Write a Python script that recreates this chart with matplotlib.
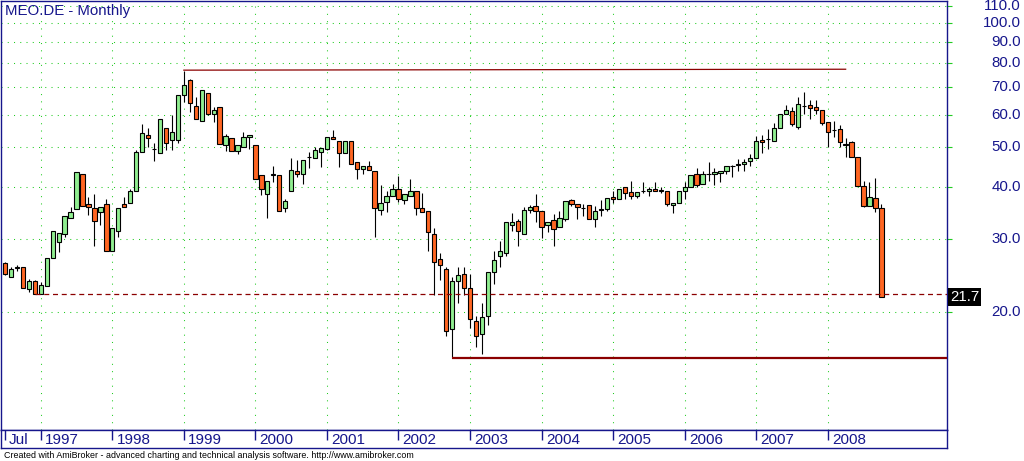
import matplotlib
matplotlib.use("Agg")
import matplotlib.pyplot as plt
from matplotlib.ticker import NullLocator, FixedLocator
from matplotlib.transforms import blended_transform_factory
import pandas as pd

# ---- data (monthly OHLC, Jul 1996 .. Oct 2008) ----
start_month = "1996-07"
opens = [26.2, 24.3, 25.55, 25.6, 22.7, 23.7, 22.0, 23.1, 27.0, 29.5, 30.9, 33.8,
         35.4, 43.1, 36.5, 35.6, 34.8, 36.4, 28.0, 31.3, 36.4, 36.6, 39.1, 48.7,
         53.5, 49.6, 48.4, 55.6, 52.0, 52.2, 66.9, 72.8, 62.9, 57.9, 67.6, 60.2,
         62.6, 50.6, 52.6, 48.9, 50.1, 52.9, 50.6, 42.8, 38.5, 42.9, 42.8, 35.6,
         39.3, 43.8, 43.1, 47.4, 47.1, 48.8, 49.7, 53.0, 51.7, 48.4, 51.7, 46.0,
         44.3, 45.2, 43.8, 35.2, 36.8, 38.2, 39.7, 37.2, 38.2, 39.1, 35.6, 35.0,
         30.9, 26.8, 25.4, 18.1, 23.7, 24.7, 22.8, 19.0, 17.6, 19.5, 24.9, 27.2,
         27.8, 32.5, 33.2, 30.8, 35.2, 36.0, 35.0, 32.4, 33.4, 32.0, 33.6, 37.2,
         36.4, 35.6, 36.2, 33.6, 35.3, 35.4, 38.0, 37.4, 40.0, 38.9, 38.2, 39.1,
         39.1, 39.7, 39.3, 39.3, 36.2, 36.6, 39.3, 40.0, 43.1, 40.8, 43.1, 43.0,
         43.3, 43.9, 45.1, 45.4, 45.7, 46.3, 47.1, 52.1, 52.3, 51.9, 55.7, 60.4,
         61.2, 56.2, 62.9, 63.3, 62.8, 61.5, 57.6, 55.1, 55.3, 50.8, 51.5, 47.4,
         40.4, 36.0, 37.8, 35.6]
highs = [26.4, 25.6, 25.9, 25.6, 24.0, 23.9, 23.6, 27.0, 31.3, 31.0, 34.1, 35.9,
         43.6, 43.1, 37.9, 38.5, 35.8, 37.4, 31.8, 35.6, 37.9, 39.6, 49.3, 57.0,
         55.7, 51.2, 58.5, 55.6, 60.0, 66.9, 76.5, 73.3, 66.2, 68.8, 67.6, 62.6,
         62.6, 53.9, 52.6, 50.6, 54.5, 53.5, 50.6, 42.8, 41.4, 45.1, 42.8, 37.4,
         47.1, 46.6, 46.5, 48.7, 50.0, 49.8, 52.9, 55.0, 51.7, 51.7, 51.7, 46.0,
         45.0, 46.3, 43.8, 40.5, 39.3, 40.7, 42.6, 38.5, 41.9, 39.1, 38.7, 35.0,
         31.8, 27.8, 25.7, 24.3, 25.7, 25.6, 24.7, 19.5, 21.0, 24.9, 28.1, 29.7,
         32.9, 34.7, 33.6, 35.8, 36.2, 38.5, 35.0, 32.9, 34.5, 35.0, 37.0, 37.6,
         36.4, 36.4, 36.2, 36.1, 37.2, 37.8, 39.3, 39.7, 40.0, 41.4, 38.9, 41.2,
         40.2, 41.2, 40.2, 39.3, 36.6, 39.1, 41.2, 42.9, 44.5, 43.8, 46.0, 44.5,
         43.9, 45.0, 45.4, 46.8, 47.0, 48.2, 53.4, 53.6, 55.4, 57.4, 60.2, 63.4,
         62.6, 66.2, 68.1, 65.2, 65.2, 61.5, 57.6, 57.9, 56.6, 52.6, 51.8, 47.4,
         41.4, 41.2, 42.1, 36.4]
lows = [24.5, 24.2, 25.1, 22.8, 22.3, 22.0, 22.0, 23.1, 27.0, 27.9, 30.3, 33.8,
        35.4, 36.0, 34.2, 28.9, 32.5, 28.0, 28.0, 30.4, 35.8, 36.6, 39.1, 48.7,
        50.1, 46.4, 48.4, 49.3, 49.3, 51.3, 64.5, 61.1, 58.7, 57.9, 59.8, 57.8,
        51.1, 49.1, 48.9, 48.3, 50.1, 49.5, 41.9, 38.4, 33.8, 41.3, 35.0, 34.9,
        39.1, 42.3, 40.8, 44.6, 47.1, 44.9, 49.4, 52.3, 44.9, 48.4, 45.5, 41.9,
        43.0, 44.0, 30.3, 34.3, 34.8, 38.2, 36.8, 36.4, 38.2, 34.3, 34.8, 28.1,
        21.9, 23.8, 17.4, 15.4, 21.0, 21.9, 18.2, 16.4, 15.8, 18.5, 23.3, 25.7,
        27.2, 31.4, 28.8, 30.8, 34.7, 32.9, 30.1, 31.1, 28.8, 32.0, 33.2, 36.0,
        33.6, 34.1, 33.6, 32.0, 34.1, 35.1, 36.7, 37.4, 37.4, 37.6, 37.8, 38.7,
        38.1, 39.1, 38.7, 36.0, 34.7, 36.6, 37.6, 40.0, 40.2, 40.8, 41.5, 40.6,
        41.3, 43.1, 42.4, 43.9, 43.9, 45.2, 47.1, 48.6, 49.6, 51.9, 55.7, 60.2,
        56.4, 55.4, 60.2, 58.7, 60.3, 56.8, 50.0, 53.0, 50.0, 47.3, 47.4, 40.3,
        35.8, 36.0, 34.8, 21.7]
closes = [24.7, 25.4, 25.6, 22.8, 23.7, 22.0, 23.2, 27.0, 31.3, 31.0, 34.1, 34.8,
          43.6, 36.0, 35.8, 33.2, 35.8, 28.0, 31.8, 35.6, 35.8, 39.1, 48.7, 54.1,
          52.6, 49.7, 58.5, 51.2, 54.4, 66.9, 70.8, 64.0, 58.7, 68.8, 60.2, 61.5,
          51.1, 53.2, 48.9, 50.6, 52.9, 53.5, 41.9, 39.6, 41.4, 43.0, 35.0, 37.0,
          44.0, 43.0, 46.5, 47.5, 49.2, 49.8, 52.9, 52.3, 48.4, 51.7, 45.5, 44.3,
          45.0, 44.0, 35.6, 36.6, 38.2, 39.7, 37.6, 38.5, 39.1, 35.6, 34.8, 31.1,
          26.3, 25.9, 17.9, 23.7, 24.5, 22.8, 19.2, 17.4, 19.4, 24.9, 26.6, 28.1,
          32.9, 32.9, 31.3, 35.2, 35.8, 35.0, 32.1, 32.9, 31.7, 33.8, 37.0, 36.4,
          35.8, 35.7, 33.6, 35.1, 35.4, 37.8, 37.4, 39.7, 38.7, 38.2, 38.9, 39.2,
          39.7, 39.3, 39.4, 36.4, 36.6, 39.1, 40.2, 42.9, 40.6, 43.1, 43.2, 43.5,
          43.9, 45.0, 45.2, 45.7, 46.2, 47.1, 51.9, 51.5, 52.4, 55.7, 60.2, 61.5,
          57.1, 63.6, 63.0, 62.4, 61.8, 57.4, 54.6, 55.2, 51.5, 50.9, 47.4, 40.3,
          36.1, 38.0, 35.6, 21.7]

price_ticks = [20, 30, 40, 50, 60, 70, 80, 90, 100, 110]
title = "MEO.DE - Monthly"
footer = ("Created with AmiBroker - advanced charting and technical analysis software. "
          "http://www.amibroker.com")

# reference lines
res_start, res_end = 30, 141
res_values = (77.0, 77.4)
sup_start, sup_value = 75, 15.4
dash_start, dash_value = 5, 22.0
last_label = "21.7"

# ---- styling ----
NAVY = "#16168C"
GRID = "#22CC22"
UP = "#90EE90"
DOWN = "#FF6622"
MAROON = "#8B0000"
FONT = "Liberation Sans"

W, H = 1024, 461
fig = plt.figure(figsize=(W / 100, H / 100), dpi=100)
fig.patch.set_facecolor("white")

ax = fig.add_axes([1 / W, 31 / H, 946 / W, 429 / H])
ax.set_yscale("log")
n = len(opens)
xs = list(range(n))
ax.set_xlim(-0.671, 158.0)
ax.set_ylim(10.32, 113.3)

months = pd.period_range(start_month, periods=n, freq="M")
year_idx = [i for i, m in enumerate(months) if m.month == 1]
year_lbl = [str(months[i].year) for i in year_idx]

# grid
for p in price_ticks:
    ax.axhline(p, color=GRID, lw=0.75, ls=(0, (1, 5)), zorder=0)
for i in year_idx:
    ax.axvline(i, color=GRID, lw=0.75, ls=(0, (1, 6)), zorder=0)

# candles
bw = 0.72
for i in xs:
    o, h, l, c = opens[i], highs[i], lows[i], closes[i]
    ax.vlines(i, l, h, color="black", lw=0.8, zorder=2)
    col = UP if c >= o else DOWN
    ax.bar(i, abs(c - o), bottom=min(o, c), width=bw, color=col,
           edgecolor="black", linewidth=0.8, zorder=3)

# trend / support lines
ax.plot([res_start, res_end], list(res_values), color=MAROON, lw=0.9, zorder=4)
ax.hlines(sup_value, sup_start, 158.0, color=MAROON, lw=1.6, zorder=4)
ax.hlines(dash_value, dash_start, 158.0, color=MAROON, lw=0.9,
          linestyles=(0, (4, 3)), zorder=4)

# axes frame
for s in ax.spines.values():
    s.set_color(NAVY)
    s.set_linewidth(1.0)
ax.set_xticks([])
ax.yaxis.set_minor_locator(NullLocator())
ax.yaxis.set_major_locator(FixedLocator(price_ticks))
ax.yaxis.tick_right()
ax.tick_params(axis="y", which="major", direction="out", length=3.5,
               color=GRID, labelright=False, labelleft=False)

# price labels, right aligned
tr = blended_transform_factory(fig.transFigure, ax.transData)
for p in price_ticks:
    ax.text(1021 / W, p, f"{p:.1f}", transform=tr, ha="right", va="center",
            fontsize=10.8, color=NAVY, family=FONT, clip_on=False)
ax.text(950 / W, closes[-1], last_label, transform=tr, ha="left", va="center",
        fontsize=10.8, color="white", family=FONT, clip_on=False,
        bbox=dict(boxstyle="square,pad=0.12", fc="black", ec="none"))

# title
fig.text(5 / W, (H - 11) / H, title, ha="left", va="center", fontsize=10.8,
         color=NAVY, family=FONT)

# date band
band = fig.add_axes([1 / W, 13 / H, 946 / W, 18 / H])
band.set_xlim(ax.get_xlim())
band.set_ylim(0, 1)
band.set_xticks([])
band.set_yticks([])
for s in band.spines.values():
    s.set_color(NAVY)
    s.set_linewidth(1.0)
tick_pos = [0] + year_idx
tick_lbl = ["Jul"] + year_lbl
for i, t in zip(tick_pos, tick_lbl):
    band.vlines(i, 0.42, 1.0, color=NAVY, lw=1.0)
    band.text(i + 0.7, 0.45, t, ha="left", va="center", fontsize=11,
              color=NAVY, family=FONT)

fig.text(4 / W, (H - 455) / H, footer, ha="left", va="center", fontsize=6.4,
         color="black", family=FONT)

fig.savefig("out.png", dpi=100)
